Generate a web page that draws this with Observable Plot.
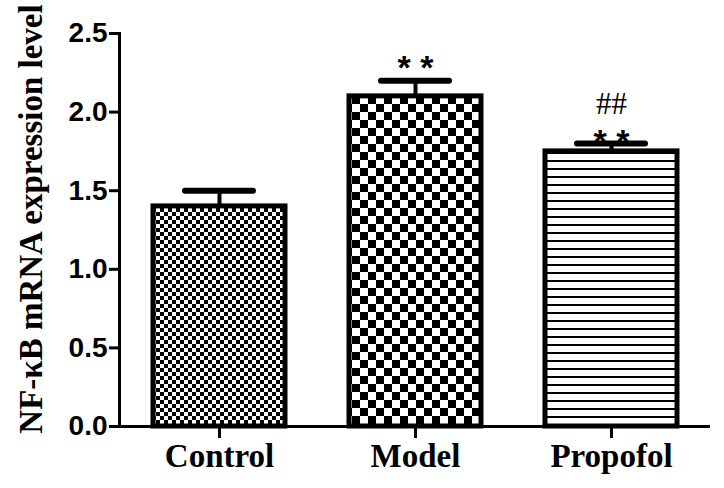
<!DOCTYPE html>
<html>
<head>
<meta charset="utf-8">
<script src="https://cdn.jsdelivr.net/npm/d3@7"></script>
<script src="https://cdn.jsdelivr.net/npm/@observablehq/plot@0.6"></script>
<style>
  html, body { margin: 0; padding: 0; background: #fff; }
</style>
</head>
<body>
<div id="chart"></div>
<script>
// Data
const categories = ["Control", "Model", "Propofol"];
const means = [1.40, 2.10, 1.75];
const errors = [0.10, 0.10, 0.05];
const patternIds = ["pat-fine", "pat-coarse", "pat-lines"];
const yTicks = [0, 0.5, 1.0, 1.5, 2.0, 2.5];
const yLabel = "NF-κB mRNA expression level";

// Significance annotations
const starCats = ["Model", "Propofol"];
const starY = [2.33, 1.86];
const hashCats = ["Propofol"];
const hashY = [2.05];

const data = categories.map((c, i) => ({cat: c, value: means[i], err: errors[i], top: means[i] + errors[i], fill: `url(#${patternIds[i]})`}));
const stars = starCats.map((c, i) => ({cat: c, y: starY[i], text: "* *"}));
const hashes = hashCats.map((c, i) => ({cat: c, y: hashY[i], text: "##"}));

const serif = "'Liberation Serif', 'Times New Roman', serif";
const sans = "'Liberation Sans', Arial, sans-serif";

const chart = Plot.plot({
  width: 724,
  height: 488,
  marginLeft: 119,
  marginRight: 14,
  marginTop: 33,
  marginBottom: 62,
  style: {background: "#fff", color: "#000"},
  x: {domain: categories, paddingInner: 0.327, paddingOuter: 0.171, label: null},
  y: {domain: [0, 2.5], label: null},
  color: {type: "identity"},
  marks: [
    Plot.barY(data, {x: "cat", y: "value", fill: "fill", stroke: "black", strokeWidth: 5}),
    Plot.ruleX(data, {x: "cat", y1: "value", y2: "top", stroke: "black", strokeWidth: 4}),
    Plot.tickY(data, {x: "cat", y: "top", stroke: "black", strokeWidth: 6, strokeLinecap: "round", insetLeft: 32, insetRight: 32}),
    Plot.ruleY([0], {stroke: "black", strokeWidth: 3}),
    Plot.frame({anchor: "left", stroke: "black", strokeWidth: 3}),
    Plot.axisY({ticks: yTicks, tickFormat: d3.format(".1f"), tickSize: 10, tickPadding: 2, strokeWidth: 3, fontSize: 28, fontWeight: "bold", fontFamily: sans, label: null}),
    Plot.axisX({tickSize: 12, tickPadding: 5, strokeWidth: 3, fontSize: 33, fontWeight: "bold", fontFamily: serif, label: null}),
    Plot.text(stars, {x: "cat", y: "y", text: "text", fontSize: 34, fontWeight: "bold", fontFamily: sans, lineAnchor: "middle", dy: 8}),
    Plot.text(hashes, {x: "cat", y: "y", text: "text", fontSize: 31, fontFamily: serif, lineAnchor: "middle"}),
    Plot.text([yLabel], {text: d => d, frameAnchor: "left", rotate: -90, dx: -88, dy: -11, fontSize: 33, fontWeight: "bold", fontFamily: serif, textAnchor: "middle", lineAnchor: "middle"})
  ]
});

// Fill patterns
const ns = "http://www.w3.org/2000/svg";
const defs = document.createElementNS(ns, "defs");
defs.innerHTML = `
  <pattern id="pat-fine" patternUnits="userSpaceOnUse" width="8" height="8">
    <rect width="8" height="8" fill="#fff"/>
    <rect x="0" y="0" width="4" height="4" fill="#000"/>
    <rect x="4" y="4" width="4" height="4" fill="#000"/>
  </pattern>
  <pattern id="pat-coarse" patternUnits="userSpaceOnUse" width="16" height="16">
    <rect width="16" height="16" fill="#fff"/>
    <rect x="0" y="0" width="8" height="8" fill="#000"/>
    <rect x="8" y="8" width="8" height="8" fill="#000"/>
  </pattern>
  <pattern id="pat-lines" patternUnits="userSpaceOnUse" width="8" height="8">
    <rect width="8" height="8" fill="#fff"/>
    <rect x="0" y="0" width="8" height="2" fill="#000"/>
  </pattern>`;
chart.insertBefore(defs, chart.firstChild);

document.getElementById("chart").appendChild(chart);
</script>
</body>
</html>
